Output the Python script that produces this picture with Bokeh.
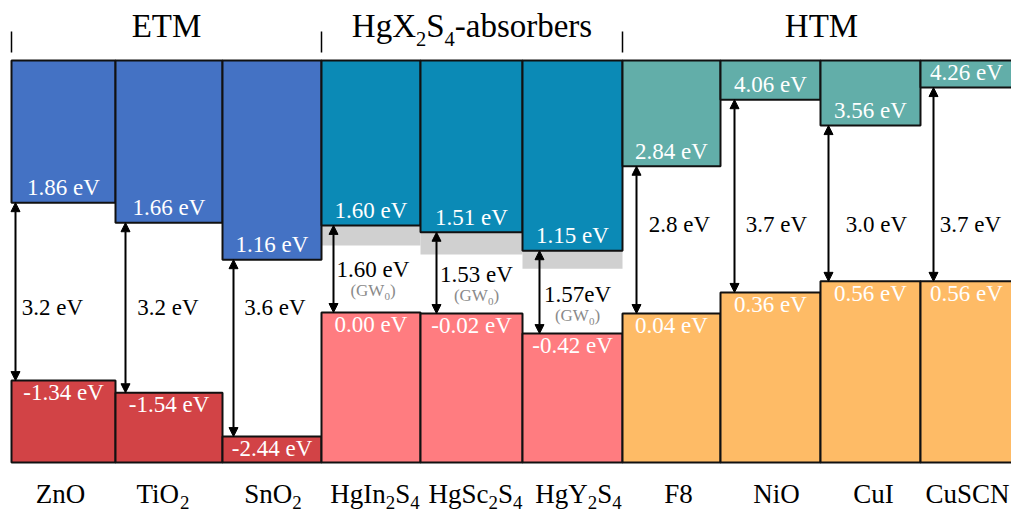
from bokeh.plotting import figure
from bokeh.models import ColumnDataSource, Range1d, Arrow, NormalHead
from bokeh.core.properties import value, field
from bokeh.embed import file_html
from bokeh.resources import INLINE

# ---------------- data ----------------
groups = ["ETM", "HgX_2S_4-absorbers", "HTM"]
group_sizes = [3, 3, 4]
materials = ["ZnO", "TiO_2", "SnO_2", "HgIn_2S_4", "HgSc_2S_4", "HgY_2S_4",
             "F8", "NiO", "CuI", "CuSCN"]
# energy values printed on the bars (eV)
cb_value = [1.86, 1.66, 1.16, 1.60, 1.51, 1.15, 2.84, 4.06, 3.56, 4.26]
vb_value = [-1.34, -1.54, -2.44, 0.00, -0.02, -0.42, 0.04, 0.36, 0.56, 0.56]
# band edge levels as drawn in the picture (eV)
cb_level = [2.08, 1.70, 1.00, 1.65, 1.52, 1.17, 2.77, 4.03, 3.54, 4.26]
vb_level = [-1.29, -1.52, -2.35, 0.00, -0.02, -0.40, -0.02, 0.38, 0.59, 0.59]
# grey correction band below the absorber CB (eV), None = no band
grey_low = [None, None, None, 1.27, 1.10, 0.83, None, None, None, None]
gap_text = ["3.2 eV", "3.2 eV", "3.6 eV", "1.60 eV", "1.53 eV", "1.57eV",
            "2.8 eV", "3.7 eV", "3.0 eV", "3.7 eV"]
gap_method = ["", "", "", "(GW_0)", "(GW_0)", "(GW_0)", "", "", "", ""]

# ---------------- layout / style ----------------
WIDTH, HEIGHT = 1011, 512
Y0_PX, PX_PER_EV = 312.0, 52.8
BASE_FIX = 0.34   # renderer places text ~0.34em lower than the baseline asked for
def ev(px):
    return (Y0_PX - px) / PX_PER_EV
def ev_text(base_px, size):
    return ev(base_px - BASE_FIX * size)

edges = [11, 115, 222, 321, 420, 522, 622, 720, 820, 920, 1012]
TOP, BOTTOM = ev(60), ev(462)
arrow_x = [15, 125, 233, 333, 436, 539, 636, 734, 828, 933]
gap_dx = [-11, -1, 3, 2, 5, 5, 8, 6, 6, 4]
gap_base_px = [315, 315, 315, 277, 282, 302, 232, 232, 232, 232]
name_dx = [-3, -6, 1, 4, 4, 6, 7, 6, 3, 1]
cb_colors = ["#4472C4", "#0B8AB6", "#62AEA9"]
vb_colors = ["#D24346", "#FF7C80", "#FEBB66"]
FONT = "Liberation Serif"
LAB_SIZE = 23

group_of = []
for gi, n in enumerate(group_sizes):
    group_of += [gi] * n
centers = [(edges[i] + edges[i + 1]) / 2 for i in range(len(materials))]

# Times / Liberation Serif advance widths (1/1000 em)
W = {' ': 250, '(': 333, ')': 333, '-': 333, '.': 250,
     'A': 722, 'C': 667, 'E': 611, 'F': 556, 'G': 722, 'H': 722, 'I': 333,
     'M': 889, 'N': 722, 'O': 722, 'S': 556, 'T': 611, 'V': 722, 'W': 944,
     'X': 722, 'Y': 722, 'Z': 611, 'a': 444, 'b': 500, 'c': 444, 'e': 444,
     'g': 500, 'i': 278, 'n': 500, 'o': 500, 'r': 333, 's': 389, 'u': 500}
def tw(t, size):
    return sum(W.get(c, 500) for c in t) / 1000.0 * size

def parse(s):
    out, buf, i = [], "", 0
    while i < len(s):
        if s[i] == "_" and i + 1 < len(s):
            if buf:
                out.append((buf, False)); buf = ""
            out.append((s[i + 1], True)); i += 2
        else:
            buf += s[i]; i += 1
    if buf:
        out.append((buf, False))
    return out

rich = dict(x=[], y=[], text=[], fs=[], color=[])
def rich_text(s, xc, base_px, size, color, sub_scale=0.7, sub_drop=0.2):
    segs = parse(s)
    total = sum(tw(t, size * sub_scale if sub else size) for t, sub in segs)
    x = xc - total / 2
    for t, sub in segs:
        sz = size * sub_scale if sub else size
        yp = base_px + (size * sub_drop if sub else 0)
        rich["x"].append(x); rich["y"].append(ev_text(yp, sz)); rich["text"].append(t)
        rich["fs"].append("%.1fpx" % sz); rich["color"].append(color)
        x += tw(t, sz)

p = figure(width=WIDTH, height=HEIGHT, x_range=Range1d(0, WIDTH),
           y_range=Range1d(ev(HEIGHT), ev(0)), min_border=0,
           toolbar_location=None, output_backend="svg",
           x_axis_location=None, y_axis_location=None)
p.grid.visible = False
p.outline_line_color = None
p.background_fill_color = "white"
p.border_fill_color = "white"

# grey bands (behind bars)
gi_idx = [i for i, g in enumerate(grey_low) if g is not None]
p.quad(left=[edges[i] for i in gi_idx], right=[edges[i + 1] for i in gi_idx],
       top=[cb_level[i] for i in gi_idx], bottom=[grey_low[i] for i in gi_idx],
       fill_color="#D0D0D0", line_color=None)

n = len(materials)
cb_src = ColumnDataSource(dict(left=edges[:-1], right=edges[1:], top=[TOP] * n,
                               bottom=cb_level,
                               color=[cb_colors[g] for g in group_of]))
vb_src = ColumnDataSource(dict(left=edges[:-1], right=edges[1:], top=vb_level,
                               bottom=[BOTTOM] * n,
                               color=[vb_colors[g] for g in group_of]))
for src in (cb_src, vb_src):
    p.quad(left="left", right="right", top="top", bottom="bottom", source=src,
           fill_color="color", line_color="#111111", line_width=2)

# bar energy labels (CB label sits 7px above the edge, VB baseline 20px below)
def px_of(e):
    return Y0_PX - e * PX_PER_EV
lab_src = ColumnDataSource(dict(
    x=centers + centers,
    y=[ev_text(px_of(c) - 7, LAB_SIZE) for c in cb_level]
      + [ev_text(px_of(v) + 20, LAB_SIZE) for v in vb_level],
    text=["%.2f eV" % v for v in cb_value] + ["%.2f eV" % v for v in vb_value]))
p.text(x="x", y="y", text="text", source=lab_src, text_color="white",
       text_font=value(FONT), text_font_size="%dpx" % LAB_SIZE, text_align="center",
       text_baseline="alphabetic")

# gap arrows
arr_src = ColumnDataSource(dict(x=arrow_x, y0=cb_level, y1=vb_level))
p.add_layout(Arrow(start=NormalHead(size=9, fill_color="black", line_color="black", line_width=1),
                   end=NormalHead(size=9, fill_color="black", line_color="black", line_width=1),
                   x_start="x", y_start="y0", x_end="x", y_end="y1",
                   source=arr_src, line_width=2, line_color="black"))

# gap labels
for i in range(n):
    xc = centers[i] + gap_dx[i]
    rich_text(gap_text[i], xc, gap_base_px[i], LAB_SIZE, "black")
    if gap_method[i]:
        rich_text(gap_method[i], xc, gap_base_px[i] + 19, 17, "#8A8A8A",
                  sub_scale=0.65, sub_drop=0.22)

# material names
for i in range(n):
    rich_text(materials[i], centers[i] + name_dx[i], 503, 27, "black",
              sub_scale=0.7, sub_drop=0.2)

# group headers and brackets
start = 0
bx = []
for gi, cnt in enumerate(group_sizes):
    gc = (edges[start] + edges[min(start + cnt, len(edges) - 1)]) / 2
    if gi == len(group_sizes) - 1:
        gc = (edges[start] + 1020) / 2
    rich_text(groups[gi], gc, 37, 33, "black", sub_scale=0.62, sub_drop=0.25)
    bx.append(edges[start])
    start += cnt
p.segment(x0=bx, x1=bx, y0=[ev(31)] * len(bx), y1=[ev(52)] * len(bx),
          line_color="black", line_width=1.5)

rich_src = ColumnDataSource(rich)
p.text(x="x", y="y", text="text", source=rich_src, text_color=field("color"),
       text_font=value(FONT), text_font_size=field("fs"), text_align="left",
       text_baseline="alphabetic")

open("out.html", "w").write(file_html(p, INLINE))
